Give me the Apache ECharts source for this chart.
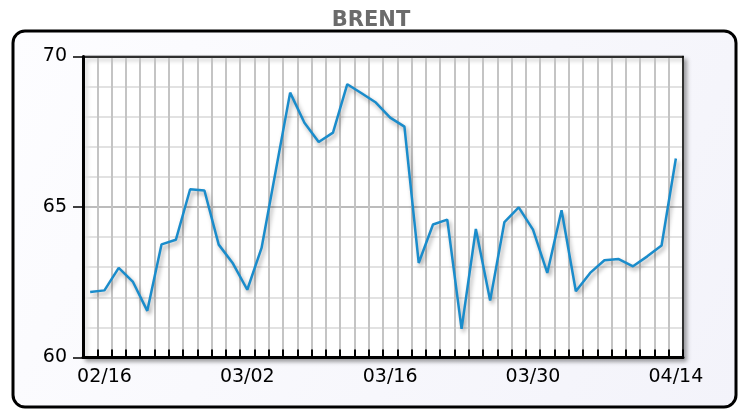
<!DOCTYPE html>
<html>
<head>
<meta charset="utf-8">
<script src="https://cdn.jsdelivr.net/npm/echarts@6/dist/echarts.min.js"></script>
<style>
html,body{margin:0;padding:0;background:#fff;}
#chart{width:742px;height:410px;}
</style>
</head>
<body>
<div id="chart"></div>
<script>
// Trading days (Feb 13 – Apr 14)
const dates = [
  '02/13','02/16','02/17','02/18','02/19','02/20','02/23','02/24','02/25','02/26','02/27',
  '03/02','03/03','03/04','03/05','03/06','03/09','03/10','03/11','03/12','03/13',
  '03/16','03/17','03/18','03/19','03/20','03/23','03/24','03/25','03/26','03/27',
  '03/30','03/31','04/01','04/02','04/06','04/07','04/08','04/09','04/10','04/13','04/14'
];
const brent = [
  62.18, 62.23, 62.98, 62.51, 61.55, 63.76, 63.91, 65.59, 65.55, 63.75, 63.12,
  62.25, 63.64, 66.22, 68.80, 67.80, 67.16, 67.47, 69.08, 68.78, 68.47,
  67.97, 67.67, 63.14, 64.42, 64.58, 60.95, 64.27, 61.89, 64.50, 64.99,
  64.25, 62.81, 64.89, 62.20, 62.81, 63.23, 63.27, 63.03, 63.36, 63.72, 66.61
];
const yMin = 60, yMax = 70, yStep = 5;
const titleText = 'BRENT';

const font = 'DejaVu Sans, Verdana, sans-serif';
const chart = echarts.init(document.getElementById('chart'), null, {renderer: 'canvas'});
chart.setOption({
  animation: false,
  backgroundColor: '#ffffff',
  title: {
    text: titleText,
    left: 'center',
    top: 5,
    textStyle: {fontFamily: font, fontSize: 21, fontWeight: 'bold', color: '#6b6b6b'}
  },
  graphic: [{
    type: 'rect',
    z: -10,
    silent: true,
    shape: {x: 13, y: 31, width: 723, height: 376, r: 12},
    style: {
      fill: new echarts.graphic.LinearGradient(0, 0, 1, 1, [
        {offset: 0, color: '#fdfdff'},
        {offset: 1, color: '#f3f3fa'}
      ]),
      stroke: '#000', lineWidth: 3
    }
  }],
  grid: {
    left: 83, right: 59, top: 56.5, bottom: 52.5,
    outerBoundsMode: 'none',
    show: true,
    backgroundColor: '#ffffff',
    borderColor: '#000',
    borderWidth: 1.5,
    shadowColor: 'rgba(0,0,0,0.35)',
    shadowBlur: 4,
    shadowOffsetX: 3,
    shadowOffsetY: 3
  },
  xAxis: [{
    type: 'category',
    data: dates,
    boundaryGap: true,
    axisLine: {lineStyle: {color: '#000', width: 3}},
    axisTick: {show: true, inside: true, length: 8, interval: 0, lineStyle: {color: '#000', width: 2}},
    axisLabel: {
      interval: function (idx) { return idx % 10 === 1; },
      margin: 10,
      fontFamily: font, fontSize: 19, color: '#000'
    },
    splitLine: {show: true, interval: 0, lineStyle: {color: '#c4c4c4', width: 2}},
    z: 3
  }, {
    type: 'category',
    data: dates,
    position: 'top',
    boundaryGap: true,
    axisLine: {show: true, lineStyle: {color: '#000', width: 1.5}},
    axisTick: {show: false},
    axisLabel: {show: false},
    splitLine: {show: false},
    z: 3
  }],
  yAxis: [{
    type: 'value',
    min: yMin, max: yMax, interval: yStep,
    axisLine: {show: true, lineStyle: {color: '#000', width: 3}},
    axisTick: {show: true, length: 10, lineStyle: {color: '#000', width: 1.5}},
    axisLabel: {margin: 16, fontFamily: font, fontSize: 19, color: '#000'},
    splitLine: {show: true, lineStyle: {color: '#bcbcbc', width: 2}},
    minorTick: {show: false, splitNumber: 5},
    minorSplitLine: {show: true, lineStyle: {color: '#e2e2e2', width: 2}},
    z: 3
  }, {
    type: 'value',
    position: 'right',
    min: yMin, max: yMax, interval: yStep,
    axisLine: {show: true, lineStyle: {color: '#000', width: 1.5}},
    axisTick: {show: false},
    axisLabel: {show: false},
    splitLine: {show: false},
    z: 3
  }],
  series: [{
    type: 'line',
    data: brent,
    xAxisIndex: 0,
    yAxisIndex: 0,
    symbol: 'none',
    lineStyle: {
      color: '#1a8ccb', width: 2.5,
      shadowColor: 'rgba(0,0,0,0.35)', shadowBlur: 4, shadowOffsetX: 2, shadowOffsetY: 3
    },
    itemStyle: {color: '#1a8ccb'}
  }]
});
</script>
</body>
</html>
